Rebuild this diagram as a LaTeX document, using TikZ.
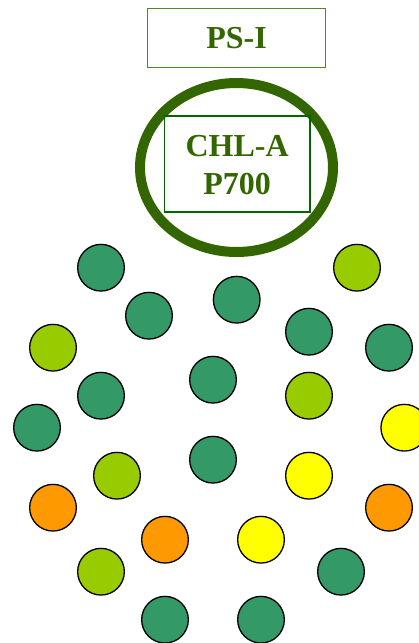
\documentclass[tikz,border=0pt]{standalone}
\usepackage{fontspec}
\setmainfont{Liberation Serif}
\definecolor{dkgreen}{HTML}{339966}
\definecolor{lime}{HTML}{99CC00}
\definecolor{yel}{HTML}{FFFF00}
\definecolor{orng}{HTML}{FF9900}
\definecolor{olive}{HTML}{336600}
\definecolor{boxgreen}{HTML}{4F8A1E}
\definecolor{boxdark}{HTML}{006600}
\tikzset{
  pig/.style={circle, draw=black, line width=1.3pt, minimum size=46.7pt, inner sep=0pt},
  dg/.style={pig, fill=dkgreen},
  lg/.style={pig, fill=lime},
  yw/.style={pig, fill=yel},
  og/.style={pig, fill=orng},
  lbl/.style={font=\bfseries\fontsize{32}{38}\selectfont, text=olive, align=center, inner sep=0pt},
}
\begin{document}
\begin{tikzpicture}[x=1pt,y=-1pt]
\useasboundingbox (0,0) rectangle (419,643);
\clip (0,0) rectangle (419,643);
\fill[white] (0,0) rectangle (419,643);
% PS-I box
\node[draw=boxgreen, line width=1.2pt, minimum width=178pt, minimum height=59pt, inner sep=0pt] (psbox) at (236.6,38.3) {};
\node[lbl] (pstext) at (psbox.center) {PS-I};
% reaction centre ring
\draw[olive, line width=10pt] (236.5,167.5) ellipse [x radius=96.5, y radius=84.5];
\coordinate (ring) at (236.5,167.5);
\node[draw=boxdark, line width=1.5pt, minimum width=145.5pt, minimum height=96pt, inner sep=0pt] (chlbox) at (237.1,163.8) {};
\node[lbl] (chltext) at (237.1,165) {CHL-A\\P700};
% pigment molecules
\node[dg] (c1) at (101,267.7) {};
\node[lg] (c2) at (357,267.7) {};
\node[dg] (c3) at (149,315.7) {};
\node[dg] (c4) at (236.7,299.7) {};
\node[dg] (c5) at (309,331.7) {};
\node[dg] (c6) at (389,347.7) {};
\node[lg] (c7) at (53,347.7) {};
\node[dg] (c8) at (101,395.7) {};
\node[dg] (c9) at (213,379.7) {};
\node[lg] (c10) at (309,395.7) {};
\node[dg] (c11) at (37,427.7) {};
\node[yw] (c12) at (404.3,427.7) {};
\node[lg] (c13) at (117,475.7) {};
\node[dg] (c14) at (213,459.7) {};
\node[yw] (c15) at (309,475.7) {};
\node[og] (c16) at (53,507.7) {};
\node[og] (c17) at (389,507.7) {};
\node[og] (c18) at (165,539.7) {};
\node[yw] (c19) at (261,539.7) {};
\node[lg] (c20) at (101,571.7) {};
\node[dg] (c21) at (341,571.7) {};
\node[dg] (c22) at (165,619.7) {};
\node[dg] (c23) at (261,619.7) {};
\end{tikzpicture}
\end{document}
